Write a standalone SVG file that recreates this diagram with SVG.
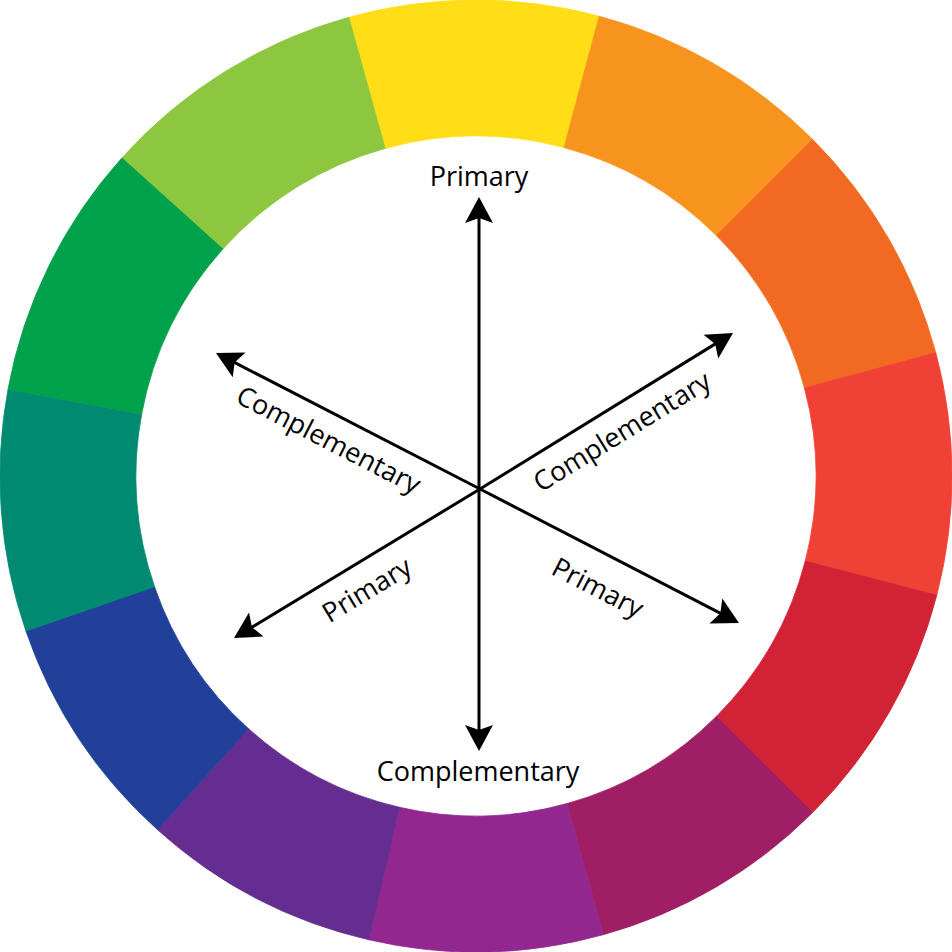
<svg xmlns="http://www.w3.org/2000/svg" width="952" height="952" viewBox="0 0 952 952">
<style>
.seg{stroke-width:0.8;stroke-linejoin:round}
.arr{fill:none;stroke:#000;stroke-width:3;marker-end:url(#head)}
.lbl{font-family:"Open Sans","Liberation Sans",sans-serif;font-size:27px;fill:#000;text-anchor:middle}
</style>
<defs>
<marker id="head" markerUnits="userSpaceOnUse" markerWidth="60" markerHeight="60" refX="0" refY="0" orient="auto" overflow="visible" viewBox="-30 -30 60 60">
<path d="M18 0 L-8 -14 L-3 0 L-8 14 Z" fill="#000"/>
</marker>
</defs>
<rect width="952" height="952" fill="#fff"/>
<g id="wheel">
<path id="seg-yellow" class="seg" fill="#FFDD17" stroke="#FFDD17" d="M348.8 17.3 A476 476 0 0 1 599.2 16.2 L564.0 147.6 A340 340 0 0 0 385.1 148.4 Z"/>
<path id="seg-orange" class="seg" fill="#F7941D" stroke="#F7941D" d="M599.2 16.2 A476 476 0 0 1 812.6 139.4 L716.4 235.6 A340 340 0 0 0 564.0 147.6 Z"/>
<path id="seg-redorange" class="seg" fill="#F26A22" stroke="#F26A22" d="M812.6 139.4 A476 476 0 0 1 935.8 352.8 L804.4 388.0 A340 340 0 0 0 716.4 235.6 Z"/>
<path id="seg-red" class="seg" fill="#EF4136" stroke="#EF4136" d="M935.8 352.8 A476 476 0 0 1 936.8 595.2 L805.2 561.1 A340 340 0 0 0 804.4 388.0 Z"/>
<path id="seg-crimson" class="seg" fill="#D12335" stroke="#D12335" d="M936.8 595.2 A476 476 0 0 1 812.6 812.6 L716.4 716.4 A340 340 0 0 0 805.2 561.1 Z"/>
<path id="seg-magenta" class="seg" fill="#9E1F63" stroke="#9E1F63" d="M812.6 812.6 A476 476 0 0 1 603.2 934.7 L566.9 803.6 A340 340 0 0 0 716.4 716.4 Z"/>
<path id="seg-purple" class="seg" fill="#92278F" stroke="#92278F" d="M603.2 934.7 A476 476 0 0 1 368.9 939.8 L399.5 807.3 A340 340 0 0 0 566.9 803.6 Z"/>
<path id="seg-violet" class="seg" fill="#662D91" stroke="#662D91" d="M368.9 939.8 A476 476 0 0 1 157.5 829.7 L248.5 728.7 A340 340 0 0 0 399.5 807.3 Z"/>
<path id="seg-blue" class="seg" fill="#21409A" stroke="#21409A" d="M157.5 829.7 A476 476 0 0 1 25.9 631.0 L154.5 586.7 A340 340 0 0 0 248.5 728.7 Z"/>
<path id="seg-teal" class="seg" fill="#008A71" stroke="#008A71" d="M25.9 631.0 A476 476 0 0 1 8.0 389.3 L141.7 414.0 A340 340 0 0 0 154.5 586.7 Z"/>
<path id="seg-green" class="seg" fill="#00A14B" stroke="#00A14B" d="M8.0 389.3 A476 476 0 0 1 122.3 157.5 L223.3 248.5 A340 340 0 0 0 141.7 414.0 Z"/>
<path id="seg-yellowgreen" class="seg" fill="#8DC63F" stroke="#8DC63F" d="M122.3 157.5 A476 476 0 0 1 348.8 17.3 L385.1 148.4 A340 340 0 0 0 223.3 248.5 Z"/>
</g>
<g id="connectors">
<path class="arr" d="M479 489 L479 215"/>
<path class="arr" d="M479 489 L479 733"/>
<path class="arr" d="M480 489 L232.0 361.2"/>
<path class="arr" d="M480 489 L717.7 342.4"/>
<path class="arr" d="M480 489 L249.4 628.7"/>
<path class="arr" d="M480 489 L723.0 614.7"/>
</g>
<g id="label-top"><text class="lbl" x="479" y="186">Primary</text></g>
<g id="label-bottom"><text class="lbl" x="478" y="781">Complementary</text></g>
<g id="label-upleft" transform="translate(480 489) rotate(27.25)"><text class="lbl" x="-157" y="35">Complementary</text></g>
<g id="label-upright" transform="translate(480 489) rotate(-31.66)"><text class="lbl" x="151" y="35">Complementary</text></g>
<g id="label-downleft" transform="translate(480 489) rotate(-31.2)"><text class="lbl" x="-149" y="37">Primary</text></g>
<g id="label-downright" transform="translate(480 489) rotate(27.35)"><text class="lbl" x="150" y="43">Primary</text></g>
</svg>
